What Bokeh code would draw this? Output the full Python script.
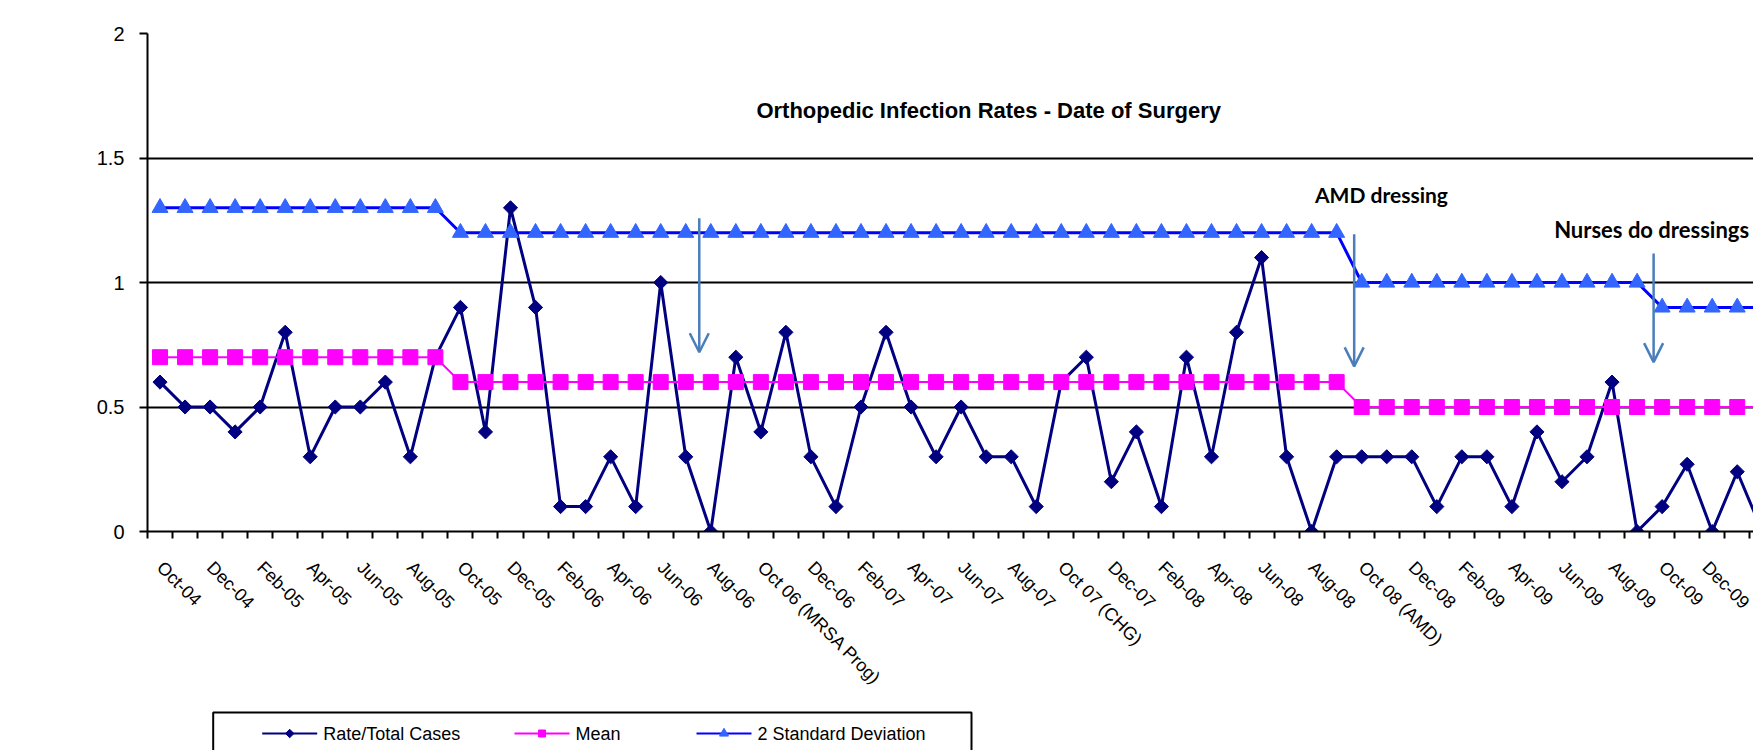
import numpy as np
from bokeh.plotting import figure
from bokeh.layouts import column
from bokeh.models import FixedTicker, Label, Arrow, OpenHead, Range1d
from bokeh.core.properties import value
from bokeh.embed import file_html
from bokeh.resources import INLINE

# ---------------- data ----------------
tick_labels = ["Oct-04", "Dec-04", "Feb-05", "Apr-05", "Jun-05", "Aug-05",
               "Oct-05", "Dec-05", "Feb-06", "Apr-06", "Jun-06", "Aug-06",
               "Oct 06 (MRSA Prog)", "Dec-06", "Feb-07", "Apr-07", "Jun-07", "Aug-07",
               "Oct 07 (CHG)", "Dec-07", "Feb-08", "Apr-08", "Jun-08", "Aug-08",
               "Oct 08 (AMD)", "Dec-08", "Feb-09", "Apr-09", "Jun-09", "Aug-09",
               "Oct-09", "Dec-09", "Feb-10"]

rate = [0.6, 0.5, 0.5, 0.4, 0.5, 0.8, 0.3, 0.5, 0.5, 0.6,
        0.3, 0.7, 0.9, 0.4, 1.3, 0.9, 0.1, 0.1, 0.3, 0.1,
        1.0, 0.3, 0.0, 0.7, 0.4, 0.8, 0.3, 0.1, 0.5, 0.8,
        0.5, 0.3, 0.5, 0.3, 0.3, 0.1, 0.6, 0.7, 0.2, 0.4,
        0.1, 0.7, 0.3, 0.8, 1.1, 0.3, 0.0, 0.3, 0.3, 0.3,
        0.3, 0.1, 0.3, 0.3, 0.1, 0.4, 0.2, 0.3, 0.6, 0.0,
        0.1, 0.27, 0.0, 0.24, 0.0]

mean = [0.7, 0.7, 0.7, 0.7, 0.7, 0.7, 0.7, 0.7, 0.7, 0.7,
        0.7, 0.7, 0.6, 0.6, 0.6, 0.6, 0.6, 0.6, 0.6, 0.6,
        0.6, 0.6, 0.6, 0.6, 0.6, 0.6, 0.6, 0.6, 0.6, 0.6,
        0.6, 0.6, 0.6, 0.6, 0.6, 0.6, 0.6, 0.6, 0.6, 0.6,
        0.6, 0.6, 0.6, 0.6, 0.6, 0.6, 0.6, 0.6, 0.5, 0.5,
        0.5, 0.5, 0.5, 0.5, 0.5, 0.5, 0.5, 0.5, 0.5, 0.5,
        0.5, 0.5, 0.5, 0.5, 0.5]

sd2 = [1.3, 1.3, 1.3, 1.3, 1.3, 1.3, 1.3, 1.3, 1.3, 1.3,
       1.3, 1.3, 1.2, 1.2, 1.2, 1.2, 1.2, 1.2, 1.2, 1.2,
       1.2, 1.2, 1.2, 1.2, 1.2, 1.2, 1.2, 1.2, 1.2, 1.2,
       1.2, 1.2, 1.2, 1.2, 1.2, 1.2, 1.2, 1.2, 1.2, 1.2,
       1.2, 1.2, 1.2, 1.2, 1.2, 1.2, 1.2, 1.2, 1.0, 1.0,
       1.0, 1.0, 1.0, 1.0, 1.0, 1.0, 1.0, 1.0, 1.0, 1.0,
       0.9, 0.9, 0.9, 0.9, 0.9]

y_ticks = [0, 0.5, 1, 1.5, 2]
y_tick_labels = ["0", "0.5", "1", "1.5", "2"]

series_names = ["Rate/Total Cases", "Mean", "2 Standard Deviation"]

x = list(range(len(rate)))

NAVY = "#000080"
MAGENTA = "#FF00FF"
BLUE = "#0000FF"
TRI = "#3366FF"
ARROW = "#4A7EBB"
FONT = "Liberation Sans"

W = 1753
H_MAIN = 705
H_LEG = 45
FRAME_LEFT = 147

p = figure(width=W, height=H_MAIN, output_backend="svg", toolbar_location=None,
           x_range=Range1d(-0.5, 63.65), y_range=Range1d(0, 2),
           min_border_left=FRAME_LEFT, min_border_right=0, min_border_top=33,
           min_border_bottom=H_MAIN - 531)
p.title.visible = False
p.outline_line_color = None
p.background_fill_color = "white"
p.border_fill_color = "white"

# x axis
xax = p.xaxis[0]
xax.ticker = FixedTicker(ticks=list(range(0, len(rate), 2)),
                         minor_ticks=[i - 0.5 for i in range(len(rate) + 1)])
xax.major_label_overrides = {2 * k: lbl for k, lbl in enumerate(tick_labels)}
xax.major_label_orientation = -np.pi / 4
xax.major_tick_line_color = None
xax.major_tick_out = 0
xax.major_tick_in = 0
xax.minor_tick_out = 7
xax.minor_tick_in = 0
xax.minor_tick_line_width = 2
xax.minor_tick_line_color = "black"
xax.axis_line_color = "black"
xax.axis_line_width = 2
xax.major_label_standoff = 26
xax.major_label_text_font = FONT
xax.major_label_text_font_size = "18px"
xax.major_label_text_color = "black"
p.xgrid.visible = False

# y axis
yax = p.yaxis[0]
yax.ticker = FixedTicker(ticks=y_ticks, minor_ticks=[])
yax.major_label_overrides = {t: l for t, l in zip(y_ticks, y_tick_labels)}
yax.major_tick_out = 8
yax.major_tick_in = 0
yax.major_tick_line_width = 2
yax.major_tick_line_color = "black"
yax.minor_tick_line_color = None
yax.axis_line_color = "black"
yax.axis_line_width = 2
yax.major_label_standoff = 15
yax.major_label_text_font = FONT
yax.major_label_text_font_size = "20px"
yax.major_label_text_color = "black"
p.ygrid.ticker = FixedTicker(ticks=y_ticks)
p.ygrid.grid_line_color = "black"
p.ygrid.grid_line_width = 2

# series
p.line(x, rate, line_color=NAVY, line_width=3)
p.scatter(x, rate, marker="square", angle=np.pi / 4, size=10,
          fill_color=NAVY, line_color=NAVY)
p.line(x, mean, line_color=MAGENTA, line_width=2)
p.scatter(x, mean, marker="square", size=15, fill_color=MAGENTA, line_color=MAGENTA)
p.line(x, sd2, line_color=BLUE, line_width=3)
p.scatter(x, sd2, marker="triangle", size=16, fill_color=TRI, line_color=TRI)

# annotations
p.add_layout(Label(x=33.1, y=1.69, text="Orthopedic Infection Rates - Date of Surgery",
                   text_align="center", text_baseline="middle", text_font=FONT,
                   text_font_style="bold", text_font_size="22px", text_color="black"))
p.add_layout(Label(x=48.79, y=1.355, text="AMD dressing",
                   text_align="center", text_baseline="middle", text_font="Lato",
                   text_font_style="bold", text_font_size="21px", text_color="black"))
p.add_layout(Label(x=59.58, y=1.211, text="Nurses do dressings",
                   text_align="center", text_baseline="middle", text_font="Lato",
                   text_font_style="bold", text_font_size="22px", text_color="black"))

for ax_, y0, y1 in [(21.54, 1.258, 0.72), (47.7, 1.194, 0.663), (59.66, 1.116, 0.68)]:
    p.add_layout(Arrow(end=OpenHead(size=19, line_color=ARROW, line_width=2.5),
                       x_start=ax_, y_start=y0, x_end=ax_, y_end=y1,
                       line_color=ARROW, line_width=2.5))

# ---------------- legend strip (separate figure, page-pixel coordinates) ----------------
# its frame is aligned with the main frame, so map x directly to page pixels
q = figure(width=W, height=H_LEG, output_backend="svg", toolbar_location=None,
           x_range=Range1d(FRAME_LEFT, W), y_range=Range1d(H_LEG, 0),
           x_axis_location=None, y_axis_location=None,
           min_border=0, min_border_left=FRAME_LEFT, min_border_right=0,
           min_border_top=0, min_border_bottom=0)
q.title.visible = False
q.outline_line_color = None
q.xgrid.visible = False
q.ygrid.visible = False
q.background_fill_color = "white"
q.border_fill_color = "white"

top0 = 712 - H_MAIN
q.quad(left=[212.7], right=[971], top=[top0], bottom=[H_LEG + 20],
       fill_color="white", line_color="black", line_width=2)

yl = 733 - H_MAIN
starts = [261.7, 514, 696]
line_cols = [NAVY, MAGENTA, BLUE]
mark_cols = [NAVY, MAGENTA, TRI]
markers = ["square", "square", "triangle"]
angles = [np.pi / 4, 0, 0]
msizes = [6, 7, 9]
for name, sx, lc, mc, mk, ang, ms in zip(series_names, starts, line_cols, mark_cols,
                                         markers, angles, msizes):
    q.line([sx, sx + 55], [yl, yl], line_color=lc, line_width=2)
    q.scatter([sx + 27.5], [yl], marker=mk, angle=ang, size=ms,
              fill_color=mc, line_color=mc)
    q.text([sx + 61], [yl], text=[name], text_font=value(FONT),
           text_font_size=value("18px"), text_baseline="middle",
           text_align="left", text_color="black")

layout = column(p, q, spacing=0)
open("out.html", "w").write(file_html(layout, INLINE))
